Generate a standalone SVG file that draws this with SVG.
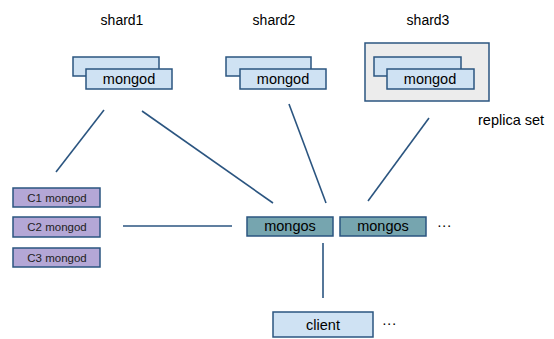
<svg xmlns="http://www.w3.org/2000/svg" width="554" height="339" viewBox="0 0 554 339">
<style>
text{font-family:"Liberation Sans",Arial,sans-serif;fill:#000;}
.lbl{font-size:14px;text-anchor:middle;}
.btxt{font-size:14.5px;text-anchor:middle;}
.ctxt{font-size:11.5px;text-anchor:middle;fill:#222;}
.side{font-size:14.5px;}
.md{fill:#cfe2f3;stroke:#2b5580;stroke-width:1.5;}
.cfg{fill:#b4a7d6;stroke:#2b5580;stroke-width:1.5;}
.ms{fill:#76a5af;stroke:#2b5580;stroke-width:1.5;}
.rs{fill:#ececec;stroke:#2b5580;stroke-width:1.5;}
.conn line{stroke:#2b5580;stroke-width:1.6;}
</style>
<g class="conn" id="connectors">
<line x1="104" y1="110" x2="56" y2="172"/>
<line x1="142" y1="111" x2="273" y2="203"/>
<line x1="289" y1="104" x2="326" y2="203"/>
<line x1="429" y1="118" x2="368" y2="201"/>
<line x1="123" y1="226" x2="232" y2="226"/>
<line x1="323" y1="243" x2="323" y2="298"/>
</g>
<g id="shard1">
<text class="lbl" x="122" y="25">shard1</text>
<rect class="md" x="73" y="57" width="86" height="19"/>
<rect class="md" x="86" y="69" width="86" height="20"/>
<text class="btxt" x="129" y="84">mongod</text>
</g>
<g id="shard2">
<text class="lbl" x="274" y="25">shard2</text>
<rect class="md" x="226" y="57" width="85" height="19"/>
<rect class="md" x="240" y="69" width="86" height="20"/>
<text class="btxt" x="283" y="84">mongod</text>
</g>
<g id="shard3">
<text class="lbl" x="428" y="25">shard3</text>
<rect class="rs" x="365" y="43" width="124" height="58"/>
<rect class="md" x="374" y="57" width="87" height="19"/>
<rect class="md" x="387" y="69" width="87" height="20"/>
<text class="btxt" x="430" y="84">mongod</text>
</g>
<g id="replica-set-label">
<text class="side" x="478" y="125">replica set</text>
</g>
<g id="config1">
<rect class="cfg" x="13" y="188" width="87" height="19"/>
<text class="ctxt" x="57" y="202">C1 mongod</text>
</g>
<g id="config2">
<rect class="cfg" x="13" y="217" width="87" height="20"/>
<text class="ctxt" x="57" y="231">C2 mongod</text>
</g>
<g id="config3">
<rect class="cfg" x="13" y="248" width="87" height="19"/>
<text class="ctxt" x="57" y="262">C3 mongod</text>
</g>
<g id="mongos1">
<rect class="ms" x="247" y="217" width="86" height="19"/>
<text class="btxt" x="290" y="231">mongos</text>
</g>
<g id="mongos2">
<rect class="ms" x="340" y="217" width="86" height="19"/>
<text class="btxt" x="383" y="231">mongos</text>
</g>
<g id="mongos-more">
<text class="side" x="437" y="230">···</text>
</g>
<g id="client">
<rect class="md" x="273" y="312" width="100" height="25"/>
<text class="btxt" x="323" y="330">client</text>
</g>
<g id="client-more">
<text class="side" x="382" y="328">···</text>
</g>
</svg>
